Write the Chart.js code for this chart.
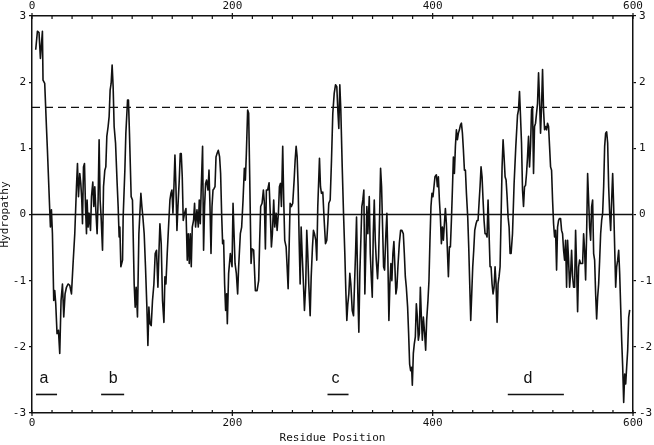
<!DOCTYPE html>
<html>
<head>
<meta charset="utf-8">
<script src="https://cdn.jsdelivr.net/npm/chart.js@4.4.1/dist/chart.umd.min.js"></script>
<style>
  html, body { margin: 0; padding: 0; background: #fff; }
  #wrap { width: 654px; height: 445px; }
</style>
</head>
<body>
<div id="wrap"><canvas id="chart" width="654" height="445"></canvas></div>
<script>
// residue position (x) and hydropathy value (y)
const residues = [
  3.7,5.4,7,8.4,10.4,11,12.7,14.4,15.4,17.7,18.4,19.4,20.4,21.7,22.7,23.7,25,26.4,27.7,29,30.4,31.7,33,34.4,36,37.7,39.4,41,42.7,44.4,45.4,46.4,47.7,48.7,49.7,50.4,51.4,52.4,53.4,54.4,55,56,57,58.4,59.4,60.7,61.7,62.7,63.7,65,66,67,68,69,70.4,71.4,72.7,73.7,74.7,76,77,78,79,80,81,82,83.4,85,86,87,87.7,88.7,90.4,91,92.7,93.7,95.4,
  96.3,97.3,99,100.3,102,103,104,105.3,106.7,107.7,108.7,109.7,110.7,112,113.3,114.7,115.7,116.7,117.7,119,120.3,121.7,123,124.3,125.7,126.7,127.7,129,130.3,131.7,132.7,133.7,135,136.3,137.7,138.7,139.7,140.7,141.7,142.7,143.7,144.7,145.7,147,148,149,150,151,152.3,153.7,155,156,157,158,159,160,161.3,162.3,163.3,164.7,166,167,168,169,170.3,171.3,172.3,173.3,174.3,175.7,176.7,177.7,178.7,179.7,180.7,181.7,182.7,183.7,184.7,186,187.3,188.3,189.3,190.3,191.3,192.3,193.3,194.3,195,196.3,198,
  199.7,200.7,201.7,202.7,204,205.3,206.3,208,209.3,210.7,212,213,214,215.3,216.3,217.3,218.7,219.7,221.3,223,224.7,226.3,227.3,228.3,229.7,231,232,233,234,235.3,236.7,238,239,240,241.3,242.3,243.7,244.7,246,247,248,249,250.3,251.3,252.3,253.7,254.7,255.7,256.7,257.7,259,260.3,261.7,262.7,263.7,264.7,265.7,266.7,267.7,268.7,269.7,271,272,273.3,274.3,275.3,276.3,277.7,278.7,280,281,282,283.3,
  284.3,285.3,287,288,289,290.3,291.7,293,294.3,295.3,296.3,297.7,299,300.3,301.7,303,304.3,305.3,306.3,307.3,308.3,309.7,311,312.3,313.3,314.3,315.3,316.3,317.3,318.3,319.7,321,322,323,324,325.3,326.3,327.3,328.3,329.3,330.3,331.3,332.3,333.3,334.3,335.3,336.7,337.7,338.7,339.7,340.7,341.7,342.7,343.7,345,346,347,348,349,350,351,352,353.3,354.3,355.3,356.3,357.3,358.3,359.3,360.3,361.3,362.3,363.3,364.3,365.3,366.7,368,369.3,370.7,371.7,372.7,373.7,375,376,377,378,379,379.7,380.7,381.7,382.7,383.7,384.7,385.7,386.7,387.7,
  388.7,389.7,390.7,392,393,394,395.3,396.3,397.3,398.3,399.3,400.3,401.3,402.3,403.7,404.7,405.7,406.7,407.7,408.7,409.7,410.7,411.7,412.7,413.7,414.7,415.7,416.7,417.7,418.7,419.7,420.7,421.7,422.7,423.7,424.7,425.7,426.7,427.7,428.7,429.7,430.7,431.7,432.7,433.7,435,436,437,438,439,440,441,442,443.3,444.3,445.3,446.3,447.3,448.3,449.3,450.3,451.3,452.3,453.3,454.3,455.3,456.3,457.3,458.3,459.3,460.3,461.3,462.3,463.3,464.3,465.3,466.3,467.3,468.3,469.3,470.3,471.3,472.3,473.3,474.3,475.3,476.3,477.3,478.3,
  479.7,481.3,483,484.7,485.7,486.7,487.7,488.7,489.7,490.7,491.7,492.7,493.7,494.7,495.7,496.7,497.7,498.7,499.7,500.7,501.7,502.7,503.7,504.7,505.7,506.7,507.7,508.7,509.7,510.7,511.7,512.7,513.7,514.7,515.7,516.7,517.7,518.7,519.7,520.7,521.7,522.7,523.7,524.7,525.7,526.7,527.7,528.7,529.7,530.7,531.7,532.7,533.7,534.7,535.7,536.7,537.7,538.7,539.7,540.7,541.7,542.7,543.7,544.7,545.7,546.7,547.7,548.7,549.7,550.7,551.7,552.7,553.7,554.7,555.7,556.7,557.7,558.7,559.7,560.7,561.7,562.7,563.7,564.7,565.7,566.7,567.7,568.7,569.7,570.7,571.7,572.7,573.7,574.7,575.7,576.7,577.7,578.7,579.7,580.7,581.7,582.7,583.7,584.7,585.7,586.7,587.7,588.7,589.7,590.7,591.7,592.7,593.7,594.7,595.7,596.7
];
const hydropathy = [
  2.49,2.77,2.75,2.36,2.77,2.03,1.98,1.33,0.97,0.07,-0.19,0.07,-0.29,-1.3,-1.15,-1.35,-1.8,-1.75,-2.1,-1.3,-1.05,-1.55,-1.2,-1.1,-1.05,-1.07,-1.2,-0.74,-0.29,0.42,0.77,0.27,0.62,0.47,0.22,-0.14,0.72,0.77,0.12,-0.29,0.22,-0.19,0.02,-0.24,0.27,0.49,0.12,0.42,0.07,-0.29,0.22,1.13,0.22,-0.04,-0.54,0.42,0.67,0.72,1.18,1.33,1.48,1.88,1.98,2.26,1.93,1.33,1.08,0.47,0.12,-0.34,-0.19,-0.79,-0.69,-0.04,0.67,1.23,1.73,
  1.73,1.23,0.27,0.22,-1.05,-1.4,-1.1,-1.55,-0.29,0.02,0.32,0.12,-0.04,-0.29,-0.79,-1.4,-1.98,-1.4,-1.65,-1.68,-1.3,-1.05,-0.59,-0.54,-1.1,-0.59,-0.14,-0.44,-1.3,-1.63,-0.94,-1.05,-0.59,-0.19,0.22,0.32,0.37,0.02,0.42,0.9,0.42,-0.24,0.12,0.52,0.92,0.92,0.57,-0.09,0.02,0.09,-0.69,-0.29,-0.74,-0.29,-0.79,-0.19,-0.09,0.17,-0.19,0.07,-0.19,0.22,-0.14,0.42,1.03,-0.54,0.12,0.47,0.52,0.37,0.67,0.12,-0.59,0.12,0.37,0.39,0.42,0.87,0.92,0.97,0.87,0.62,0.02,-0.44,-0.39,-1.05,-1.45,-1.2,-1.65,-0.89,-0.59,
  -0.79,0.17,-0.29,-0.74,-0.89,-1.2,-0.79,-0.29,-0.19,0.22,0.7,0.52,0.92,1.58,1.53,0.62,-0.74,-0.52,-0.54,-1.15,-1.15,-1.0,-0.39,0.12,0.17,0.37,0.17,-0.52,0.37,0.37,0.48,-0.04,-0.49,-0.29,0.22,-0.19,0.02,-0.24,0.02,0.42,0.47,0.12,1.03,0.22,-0.39,-0.49,-0.79,-1.12,-0.49,0.17,0.12,0.17,0.52,0.82,1.03,0.87,0.42,-0.39,-1.05,-0.19,-0.59,-1.05,-1.45,-1.05,-0.24,-0.59,-1.05,-1.53,-0.95,-0.49,-0.24,-0.29,-0.39,
  -0.69,0.12,0.85,0.42,0.32,0.34,-0.09,-0.44,-0.39,-0.14,0.17,0.22,0.82,1.53,1.83,1.96,1.93,1.58,1.3,1.96,1.58,0.72,0.02,-0.59,-1.15,-1.6,-1.35,-1.2,-0.89,-1.05,-1.45,-1.53,-1.05,-0.59,-0.04,-1.2,-1.78,-0.89,-0.39,0.12,0.22,0.37,-1.2,-0.54,0.12,-0.29,0.27,-0.59,-0.94,-1.25,-0.29,0.22,-0.39,-0.69,-0.97,-0.64,-0.04,0.7,0.42,-0.19,-0.79,-0.84,-0.29,0.02,-0.69,-1.6,-1.05,-0.74,-1.0,-0.59,-0.41,-0.79,-1.2,-1.1,-0.79,-0.44,-0.24,-0.24,-0.29,-0.59,-0.94,-1.1,-1.4,-1.8,-2.26,-2.36,-2.31,-2.58,-2.1,-1.95,-1.85,-1.35,-1.55,-1.9,-1.8,-1.1,
  -1.55,-1.9,-1.55,-1.8,-2.05,-1.6,-1.3,-1.0,-0.39,0.12,0.32,0.27,0.42,0.57,0.6,0.42,0.57,0.22,-0.04,-0.44,-0.19,-0.39,-0.14,0.09,-0.14,-0.54,-0.94,-0.49,-0.49,-0.09,0.37,0.87,0.62,1.03,1.28,1.13,1.23,1.28,1.35,1.38,1.23,0.97,0.67,0.67,0.32,-0.04,-0.49,-1.05,-1.6,-1.2,-0.79,-0.54,-0.24,-0.14,-0.09,-0.09,0.17,0.42,0.72,0.57,0.22,-0.09,-0.29,-0.29,-0.34,0.22,-0.29,-0.79,-0.79,-1.05,-1.2,-1.1,-0.79,-1.05,-1.63,-1.05,-0.94,-0.79,-0.04,0.72,1.13,0.87,0.57,0.52,0.27,-0.04,-0.19,-0.59,-0.59,
  -0.29,0.47,1.03,1.5,1.58,1.86,1.48,1.08,0.37,0.12,0.42,0.44,0.62,0.87,1.18,0.72,1.03,1.58,1.63,0.62,1.33,1.38,1.53,1.68,2.14,1.73,1.23,1.63,2.19,1.58,1.28,1.33,1.28,1.38,1.33,1.03,0.72,0.67,0.22,-0.14,-0.34,-0.24,-0.84,-0.19,-0.09,-0.06,-0.06,-0.24,-0.29,-0.54,-0.69,-0.39,-1.1,-0.39,-0.69,-1.1,-0.89,-0.54,-0.94,-1.1,-1.1,-0.24,-0.79,-1.47,-0.79,-0.69,-0.74,-0.74,-0.74,-0.29,-0.54,-0.99,-0.29,0.62,0.22,-0.19,-0.39,0.12,0.22,-0.59,-0.69,-1.2,-1.58,-1.25,-1.05,-0.69,-0.29,-0.09,0.02,0.42,1.03,1.23,1.25,1.08,0.42,0.02,-0.24,0.22,0.62,0.12,-0.49,-1.1,-0.79,-0.69,-0.54,-0.89,-1.4,-1.9,-2.3,-2.84,-2.41,-2.56,-2.3,-2.05,-1.55,-1.44
];

const xRange = [0, 600];
const xLabelTicks = [0, 200, 400, 600];
const yRange = [-3, 3];
const thresholdLevel = 1.62;

// marked regions a-d under the curve
const segmentNames = ["a", "b", "c", "d"];
const segmentStart = [4, 69, 295, 475];
const segmentEnd = [25, 92, 316, 531];
const segmentLevel = -2.72;
const segmentLabelAt = [12, 81, 303, 495];
const segmentLabelLevel = -2.55;

const MONO = "'DejaVu Sans Mono', monospace";

const datasets = [{
  data: residues.map((r, i) => ({ x: r, y: hydropathy[i] })),
  borderColor: "#111",
  borderWidth: 1.6,
  borderJoinStyle: "round",
  pointRadius: 0,
  tension: 0
}, {
  data: xRange.map(x => ({ x: x, y: 0 })),
  borderColor: "#111",
  borderWidth: 1.4,
  pointRadius: 0
}, {
  data: xRange.map(x => ({ x: x, y: thresholdLevel })),
  borderColor: "#111",
  borderWidth: 1.3,
  borderDash: [8, 5],
  pointRadius: 0
}];
segmentNames.forEach((n, i) => {
  datasets.push({
    data: [{ x: segmentStart[i], y: segmentLevel }, { x: segmentEnd[i], y: segmentLevel }],
    borderColor: "#111",
    borderWidth: 1.6,
    pointRadius: 0
  });
});

// inward minor ticks on top/bottom axes and the a-d letters
const extras = {
  id: "extras",
  afterDraw(chart) {
    const ctx = chart.ctx;
    const xs = chart.scales.x;
    const ys = chart.scales.y;
    const area = chart.chartArea;
    ctx.save();
    ctx.strokeStyle = "#111";
    ctx.lineWidth = 1.2;
    for (let v = xRange[0]; v <= xRange[1]; v += 20) {
      const px = xs.getPixelForValue(v);
      const major = v % 200 === 0;
      ctx.beginPath();
      ctx.moveTo(px, area.bottom + (major ? 3 : 0));
      ctx.lineTo(px, area.bottom - 3);
      ctx.moveTo(px, area.top - (major ? 3 : 0));
      ctx.lineTo(px, area.top + 3);
      ctx.stroke();
    }
    ctx.fillStyle = "#111";
    ctx.font = "16px 'Liberation Sans', Arial, sans-serif";
    ctx.textAlign = "center";
    ctx.textBaseline = "alphabetic";
    segmentNames.forEach((n, i) => {
      ctx.fillText(n, xs.getPixelForValue(segmentLabelAt[i]), ys.getPixelForValue(segmentLabelLevel));
    });
    ctx.restore();
  }
};

const tickFont = { family: MONO, size: 11 };
const xTickOpts = {
  min: xRange[0], max: xRange[1],
  afterBuildTicks: s => { s.ticks = xLabelTicks.map(v => ({ value: v })); },
  grid: { display: false, drawTicks: false },
  border: { display: true, color: "#111", width: 1.5 }
};

new Chart(document.getElementById("chart"), {
  type: "line",
  data: { datasets: datasets },
  options: {
    responsive: false,
    animation: false,
    layout: { padding: 0 },
    plugins: { legend: { display: false }, tooltip: { enabled: false } },
    scales: {
      x: Object.assign({
        type: "linear", position: "bottom",
        ticks: { font: tickFont, color: "#111", padding: 4, maxRotation: 0 },
        title: { display: true, text: "Residue Position", font: { family: MONO, size: 11, lineHeight: 1.2 }, color: "#111", padding: 0 },
        afterFit: s => { s.height = 32; }
      }, xTickOpts),
      x2: Object.assign({
        type: "linear", position: "top",
        ticks: { font: tickFont, color: "#111", padding: 3, maxRotation: 0 },
        afterFit: s => { s.height = 16; }
      }, xTickOpts),
      y: {
        type: "linear", position: "left", min: yRange[0], max: yRange[1],
        ticks: { stepSize: 1, font: tickFont, color: "#111", padding: 3 },
        grid: { drawOnChartArea: false, drawTicks: true, tickLength: 3, color: "#111", lineWidth: 1.2 },
        border: { display: true, color: "#111", width: 1.5 },
        title: { display: true, text: "Hydropathy", font: { family: MONO, size: 11, lineHeight: 1 }, color: "#111", padding: 0 },
        afterFit: s => { s.width = 32; }
      },
      y2: {
        type: "linear", position: "right", min: yRange[0], max: yRange[1],
        ticks: { stepSize: 1, font: tickFont, color: "#111", padding: 3 },
        grid: { drawOnChartArea: false, drawTicks: true, tickLength: 3, color: "#111", lineWidth: 1.2 },
        border: { display: true, color: "#111", width: 1.5 },
        afterFit: s => { s.width = 21; }
      }
    }
  },
  plugins: [extras]
});
</script>
</body>
</html>
